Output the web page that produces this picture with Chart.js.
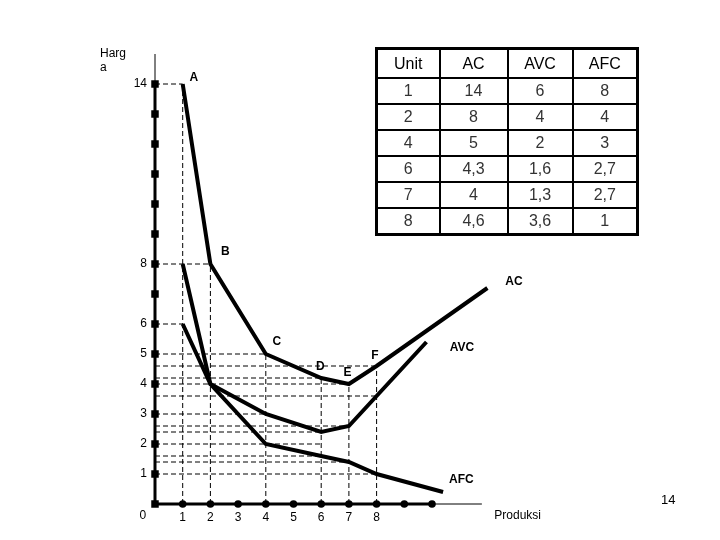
<!DOCTYPE html>
<html>
<head>
<meta charset="utf-8">
<script src="https://cdn.jsdelivr.net/npm/chart.js@4.4.0/dist/chart.umd.min.js"></script>
<style>
  html, body { margin: 0; padding: 0; background: #fff; }
  #wrap { position: relative; width: 720px; height: 540px; overflow: hidden; }
  canvas { position: absolute; left: 0; top: 0; }
  #tbl { position: absolute; left: 375px; top: 47px; border-collapse: collapse; table-layout: fixed;
         font-family: "Liberation Sans", Arial, sans-serif; font-size: 16px; border: 3px solid #000; }
  #tbl td, #tbl th { border: 2px solid #000; text-align: center; padding: 0; font-weight: normal; }
  #tbl th { height: 27px; color: #000; }
  #tbl td { height: 24px; color: #333; }
  .txt { position: absolute; font-family: "Liberation Sans", Arial, sans-serif; color: #000; }
</style>
</head>
<body>
<div id="wrap">
  <canvas id="c" width="720" height="540"></canvas>
  <table id="tbl"></table>
  <div class="txt" style="left:100px;top:46px;font-size:12px;line-height:14px;">Harg<br>a</div>
  <div class="txt" style="left:661px;top:492px;font-size:13px;">14</div>
</div>
<script>
// ---- Data ----
const acPoints  = [[1,14],[2,8],[4,5],[6,4.2],[7,4],[8,4.6],[12,7.2]];
const avcPoints = [[1,6],[2,4],[4,3],[6,2.4],[7,2.6],[8,3.6],[9.8,5.4]];
const afcPoints = [[1,8],[2,4],[4,2],[6,1.6],[7,1.4],[8,1],[10.4,0.4]];

// dashed guides: vertical [x, topY], horizontal [y, rightX]
const guideV = [[1,14],[2,8],[4,5],[6,4.2],[7,4],[8,4.6]];
const guideH = [[14,1],[8,2],[6,1],[5,4],[4.6,8],[4.2,6],[4,7],[3.6,8],[3,4],[2.6,7],[2.4,6],[2,6],[1.6,6],[1.4,7],[1,8]];

const yTickDots = [0,1,2,3,4,5,6,7,8,9,10,11,12,13,14];
const xTickDots = [1,2,3,4,5,6,7,8,9,10];
const yTickLabels = [14,8,6,5,4,3,2,1];
const xTickLabels = [1,2,3,4,5,6,7,8];

// point labels [text, x, y]
const pointLabels = [["A",1.4,14.2],["B",2.54,8.4],["C",4.4,5.4],["D",5.97,4.57],["E",6.95,4.37],["F",7.94,4.93]];
const curveLabels = [["AC",12.96,7.4],["AVC",11.08,5.2],["AFC",11.06,0.8]];

const tableHeader = ["Unit","AC","AVC","AFC"];
const tableRows = [
  ["1","14","6","8"],
  ["2","8","4","4"],
  ["4","5","2","3"],
  ["6","4,3","1,6","2,7"],
  ["7","4","1,3","2,7"],
  ["8","4,6","3,6","1"]
];
const colWidths = [63,68,65,65];

// ---- Table ----
const tbl = document.getElementById('tbl');
let html = '<colgroup>' + colWidths.map(w => '<col style="width:'+w+'px">').join('') + '</colgroup>';
html += '<tr>' + tableHeader.map(h => '<th>'+h+'</th>').join('') + '</tr>';
tableRows.forEach(r => { html += '<tr>' + r.map(v => '<td>'+v+'</td>').join('') + '</tr>'; });
tbl.innerHTML = html;

// ---- Datasets ----
const toXY = arr => arr.map(p => ({x: p[0], y: p[1]}));
const datasets = [];
const dashStyle = {borderColor:'#000', borderWidth:1, borderDash:[5,3], pointRadius:0, showLine:true, clip:false, fill:false};
guideV.forEach(g => datasets.push(Object.assign({data: [{x:g[0], y:0},{x:g[0], y:g[1]}]}, dashStyle)));
guideH.forEach(g => datasets.push(Object.assign({data: [{x:0, y:g[0]},{x:g[1], y:g[0]}]}, dashStyle)));

const axisStyle = w => ({borderColor:'#000', borderWidth:w, pointRadius:0, showLine:true, clip:false, fill:false});
datasets.push(Object.assign({data:[{x:0,y:0},{x:0,y:14}]}, axisStyle(3)));
datasets.push(Object.assign({data:[{x:0,y:14},{x:0,y:15}]}, axisStyle(1)));
datasets.push(Object.assign({data:[{x:0,y:0},{x:10.1,y:0}]}, axisStyle(3)));
datasets.push(Object.assign({data:[{x:10.1,y:0},{x:11.8,y:0}]}, axisStyle(1)));

const curveStyle = {borderColor:'#000', borderWidth:4, pointRadius:0, showLine:true, clip:false, fill:false, borderJoinStyle:'miter', borderCapStyle:'butt'};
[acPoints, avcPoints, afcPoints].forEach(c => datasets.push(Object.assign({data: toXY(c)}, curveStyle)));

datasets.push({data: yTickDots.map(v => ({x:0, y:v})), showLine:false, pointStyle:'rect', pointRadius:5.3,
  backgroundColor:'#000', borderColor:'#000', borderWidth:0, clip:false});
datasets.push({data: xTickDots.map(v => ({x:v, y:0})), showLine:false, pointStyle:'circle', pointRadius:3.8,
  backgroundColor:'#000', borderColor:'#000', borderWidth:0, clip:false});

// ---- Label plugin ----
const labelPlugin = {
  id: 'labels',
  afterDatasetsDraw(chart) {
    const ctx = chart.ctx, xs = chart.scales.x, ys = chart.scales.y;
    ctx.save();
    ctx.fillStyle = '#000';
    ctx.font = '12px "Liberation Sans", Arial, sans-serif';
    ctx.textAlign = 'right'; ctx.textBaseline = 'middle';
    yTickLabels.forEach(v => ctx.fillText(String(v), xs.getPixelForValue(0) - 8, ys.getPixelForValue(v)));
    ctx.textAlign = 'center'; ctx.textBaseline = 'top';
    xTickLabels.forEach(v => ctx.fillText(String(v), xs.getPixelForValue(v), ys.getPixelForValue(0) + 8));
    ctx.fillText('0', xs.getPixelForValue(-0.44), ys.getPixelForValue(0) + 6);
    ctx.textAlign = 'left';
    ctx.fillText('Produksi', xs.getPixelForValue(12.25), ys.getPixelForValue(0) + 6);
    ctx.font = 'bold 12px "Liberation Sans", Arial, sans-serif';
    ctx.textAlign = 'center'; ctx.textBaseline = 'middle';
    pointLabels.concat(curveLabels).forEach(l => ctx.fillText(l[0], xs.getPixelForValue(l[1]), ys.getPixelForValue(l[2])));
    ctx.restore();
  }
};

new Chart(document.getElementById('c'), {
  type: 'scatter',
  data: { datasets },
  options: {
    responsive: false,
    animation: false,
    devicePixelRatio: 1,
    layout: { padding: { left: 155, top: 54, right: 11, bottom: 36 } },
    scales: {
      x: { type: 'linear', min: 0, max: 20, display: false },
      y: { type: 'linear', min: 0, max: 15, display: false }
    },
    plugins: { legend: { display: false }, tooltip: { enabled: false } },
    elements: { line: { tension: 0 } }
  },
  plugins: [labelPlugin]
});
</script>
</body>
</html>
